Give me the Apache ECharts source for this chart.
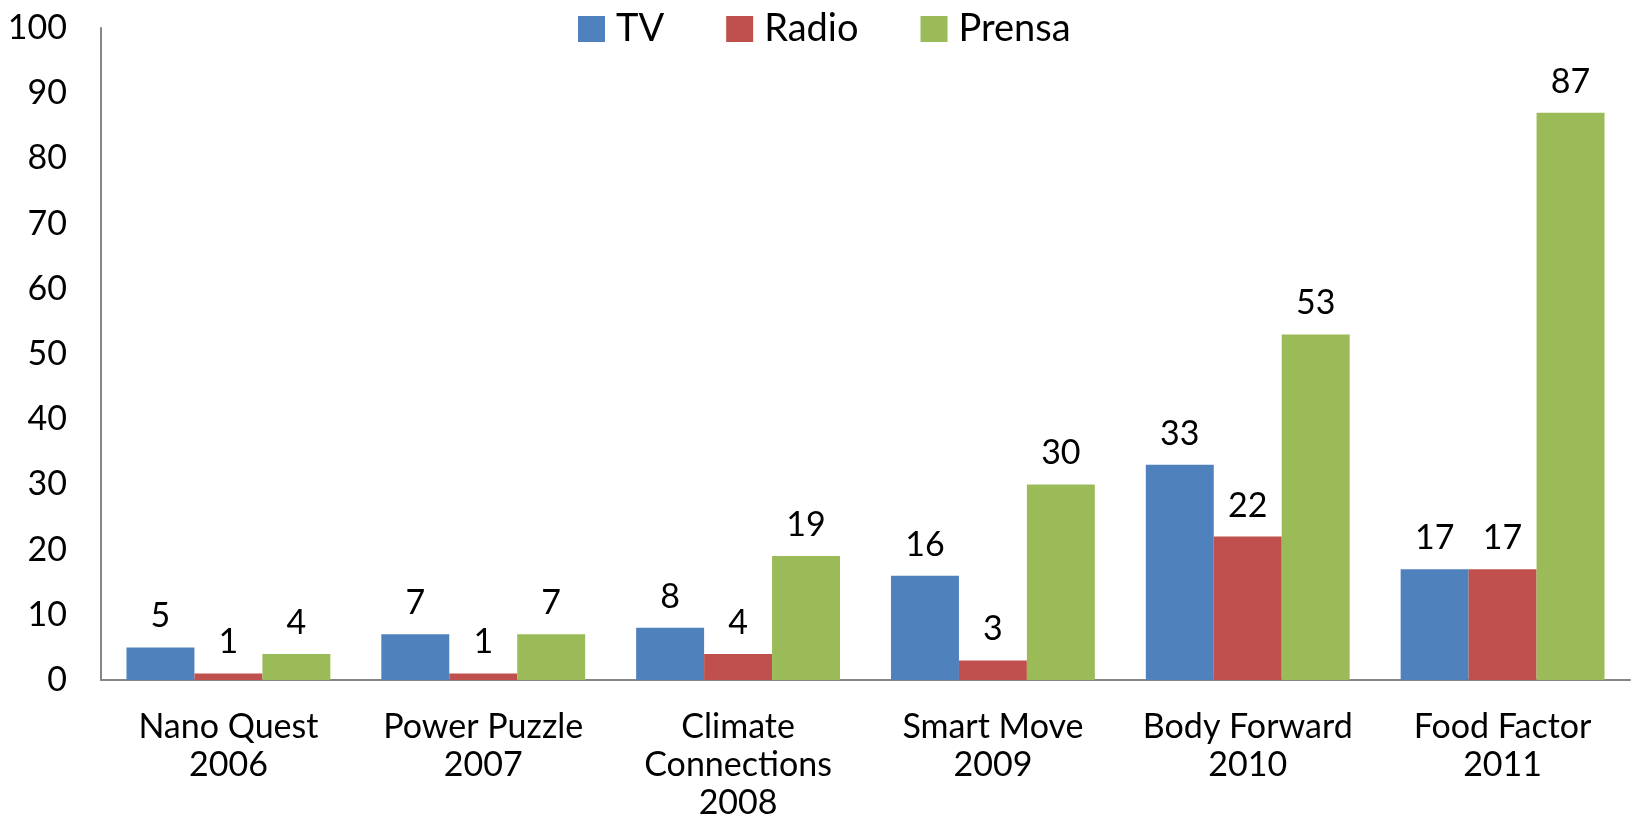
<!DOCTYPE html>
<html>
<head>
<meta charset="utf-8">
<script src="https://cdn.jsdelivr.net/npm/echarts@6/dist/echarts.min.js"></script>
<style>
  html, body { margin: 0; padding: 0; background: #fff; }
  #main { width: 1632px; height: 836px; }
</style>
</head>
<body>
<div id="main"></div>
<script>
var categories = ['Nano Quest\n2006', 'Power Puzzle\n2007', 'Climate\nConnections\n2008',
                  'Smart Move\n2009', 'Body Forward\n2010', 'Food Factor\n2011'];
var tv = [5, 7, 8, 16, 33, 17];
var radio = [1, 1, 4, 3, 22, 17];
var prensa = [4, 7, 19, 30, 53, 87];

var font = 'Lato';
var fsize = 34;

var chart = echarts.init(document.getElementById('main'));

function bar(name, data, color) {
    return {
        name: name,
        type: 'bar',
        data: data,
        barGap: '0%',
        barCategoryGap: '20%',
        itemStyle: { color: color },
        label: {
            show: true,
            position: 'top',
            distance: 14,
            color: '#000',
            fontFamily: font,
            fontSize: fsize
        }
    };
}

var option = {
    animation: false,
    legend: {
        top: 5,
        left: 573,
        itemWidth: 27,
        itemHeight: 26,
        itemGap: 62,
        icon: 'rect',
        textStyle: { color: '#000', fontFamily: font, fontSize: 38, padding: [0, 0, 0, 6] }
    },
    grid: { left: 101, right: 2, top: 28, bottom: 156 },
    xAxis: {
        type: 'category',
        data: categories,
        axisLine: { lineStyle: { color: '#868686', width: 2 } },
        axisTick: { show: false },
        axisLabel: {
            color: '#000', fontFamily: font, fontSize: fsize,
            margin: 28, lineHeight: 38, interval: 0
        }
    },
    yAxis: {
        type: 'value',
        min: 0, max: 100, interval: 10,
        splitLine: { show: false },
        axisLine: { show: true, lineStyle: { color: '#868686', width: 2 } },
        axisTick: { show: false },
        axisLabel: { color: '#000', fontFamily: font, fontSize: fsize, margin: 34 }
    },
    series: [
        bar('TV', tv, '#4F81BD'),
        bar('Radio', radio, '#C0504D'),
        bar('Prensa', prensa, '#9BBB59')
    ]
};

chart.setOption(option);
</script>
</body>
</html>
